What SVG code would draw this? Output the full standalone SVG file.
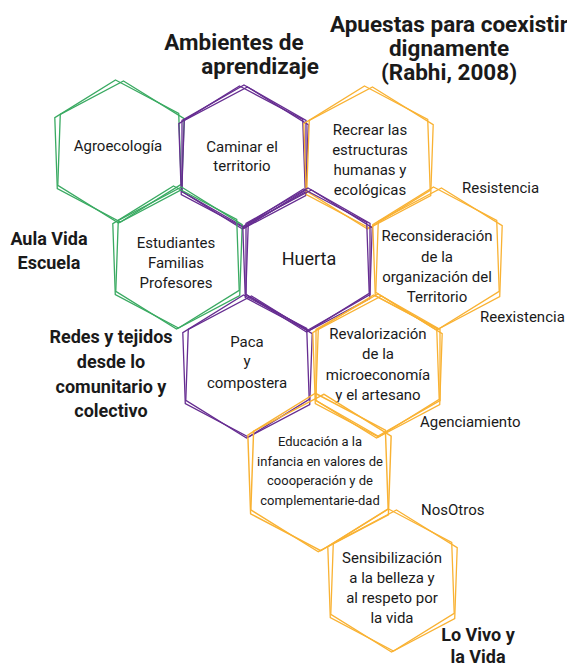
<svg xmlns="http://www.w3.org/2000/svg" xmlns:xlink="http://www.w3.org/1999/xlink" width="567" height="667" viewBox="0 0 567 667">
<style>
.hx{fill:none;stroke-width:1.3;stroke-linejoin:miter}
.g{stroke:#3aaa62}
.p{stroke:#662d91}
.o{stroke:#f9b233}
text{font-family:Roboto,"Noto Sans",sans-serif;fill:#1a1a1a;text-anchor:middle}
.t{font-size:15px}
.s{font-size:13px}
.h{font-size:22.5px;font-weight:bold}
.l{font-size:18px;font-weight:bold}
.r{font-size:15px;text-anchor:start}
</style>
<defs>
<path id="hex" d="M0,-71 L62,-35.5 L62,35.5 L0,71 L-62,35.5 L-62,-35.5 Z"/>
</defs>
<rect width="567" height="667" fill="#fff"/>

<g id="titles">
<text class="h" x="234" y="50">Ambientes de</text>
<text class="h" x="260" y="74">aprendizaje</text>
<text class="h" x="449" y="32">Apuestas para coexistir</text>
<text class="h" x="449" y="56">dignamente</text>
<text class="h" x="449" y="80">(Rabhi, 2008)</text>
</g>

<g id="agroecologia">
<use xlink:href="#hex" class="hx g" transform="translate(118,151) rotate(-2)"/>
<use xlink:href="#hex" class="hx g" transform="translate(121,152) rotate(2)"/>
<text class="t" x="118" y="151">Agroecología</text>
</g>

<g id="caminar">
<use xlink:href="#hex" class="hx p" transform="translate(242,157) rotate(-2)"/>
<use xlink:href="#hex" class="hx p" transform="translate(245,158) rotate(2)"/>
<use xlink:href="#hex" class="hx p" transform="translate(244,156) rotate(0)"/>
<text class="t" x="242" y="152">Caminar el</text>
<text class="t" x="242" y="171">territorio</text>
</g>

<g id="recrear">
<use xlink:href="#hex" class="hx o" transform="translate(367,157) rotate(-2)"/>
<use xlink:href="#hex" class="hx o" transform="translate(370,158) rotate(2)"/>
<text class="t" x="370" y="135">Recrear las</text>
<text class="t" x="370" y="155">estructuras</text>
<text class="t" x="370" y="175">humanas y</text>
<text class="t" x="370" y="195">ecológicas</text>
</g>

<g id="estudiantes">
<use xlink:href="#hex" class="hx g" transform="translate(176,257) rotate(-2)"/>
<use xlink:href="#hex" class="hx g" transform="translate(179,258) rotate(2)"/>
<text class="t" x="176" y="248">Estudiantes</text>
<text class="t" x="176" y="268">Familias</text>
<text class="t" x="176" y="288">Profesores</text>
</g>

<g id="huerta">
<use xlink:href="#hex" class="hx p" transform="translate(306,260) rotate(-2)"/>
<use xlink:href="#hex" class="hx p" transform="translate(309,261) rotate(2)"/>
<use xlink:href="#hex" class="hx p" transform="translate(308,259) rotate(0)"/>
<text x="309" y="265" style="font-size:18px">Huerta</text>
</g>

<g id="reconsideracion">
<use xlink:href="#hex" class="hx o" transform="translate(436,258) rotate(-2)"/>
<use xlink:href="#hex" class="hx o" transform="translate(439,259) rotate(2)"/>
<text class="t" x="437" y="241">Reconsideración</text>
<text class="t" x="437" y="262">de la</text>
<text class="t" x="437" y="282">organización del</text>
<text class="t" x="437" y="302">Territorio</text>
</g>

<g id="paca">
<use xlink:href="#hex" class="hx p" transform="translate(246,366) rotate(-2)"/>
<use xlink:href="#hex" class="hx p" transform="translate(249,367) rotate(2)"/>
<text class="t" x="247" y="347">Paca</text>
<text class="t" x="247" y="366">y</text>
<text class="t" x="247" y="388">compostera</text>
</g>

<g id="revalorizacion">
<use xlink:href="#hex" class="hx o" transform="translate(376,366) rotate(-2)"/>
<use xlink:href="#hex" class="hx o" transform="translate(379,367) rotate(2)"/>
<use xlink:href="#hex" class="hx o" transform="translate(378,365) rotate(0)"/>
<text class="t" x="378" y="339">Revalorización</text>
<text class="t" x="378" y="359">de la</text>
<text class="t" x="378" y="380">microeconomía</text>
<text class="t" x="378" y="400">y el artesano</text>
</g>

<g id="educacion">
<use xlink:href="#hex" class="hx o" transform="translate(318,472) rotate(-2) scale(1.11)"/>
<use xlink:href="#hex" class="hx o" transform="translate(321,473) rotate(2) scale(1.11)"/>
<text class="s" x="320" y="446">Educación a la</text>
<text class="s" x="320" y="466">infancia en valores de</text>
<text class="s" x="320" y="485">coooperación y de</text>
<text class="s" x="320" y="505">complementarie-dad</text>
</g>

<g id="sensibilizacion">
<use xlink:href="#hex" class="hx o" transform="translate(391,580) rotate(-2)"/>
<use xlink:href="#hex" class="hx o" transform="translate(394,581) rotate(2)"/>
<text class="t" x="392" y="563">Sensibilización</text>
<text class="t" x="392" y="583">a la belleza y</text>
<text class="t" x="392" y="603">al respeto por</text>
<text class="t" x="392" y="623">la vida</text>
</g>

<g id="labels">
<text class="l" x="49" y="245">Aula Vida</text>
<text class="l" x="49" y="269">Escuela</text>
<text class="l" x="111" y="343">Redes y tejidos</text>
<text class="l" x="111" y="368">desde lo</text>
<text class="l" x="111" y="393">comunitario y</text>
<text class="l" x="111" y="417">colectivo</text>
<text class="r" x="462" y="193">Resistencia</text>
<text class="r" x="480" y="322">Reexistencia</text>
<text class="r" x="420" y="427">Agenciamiento</text>
<text class="r" x="421" y="515">NosOtros</text>
<text class="l" x="478" y="641">Lo Vivo y</text>
<text class="l" x="478" y="663">la Vida</text>
</g>
</svg>
